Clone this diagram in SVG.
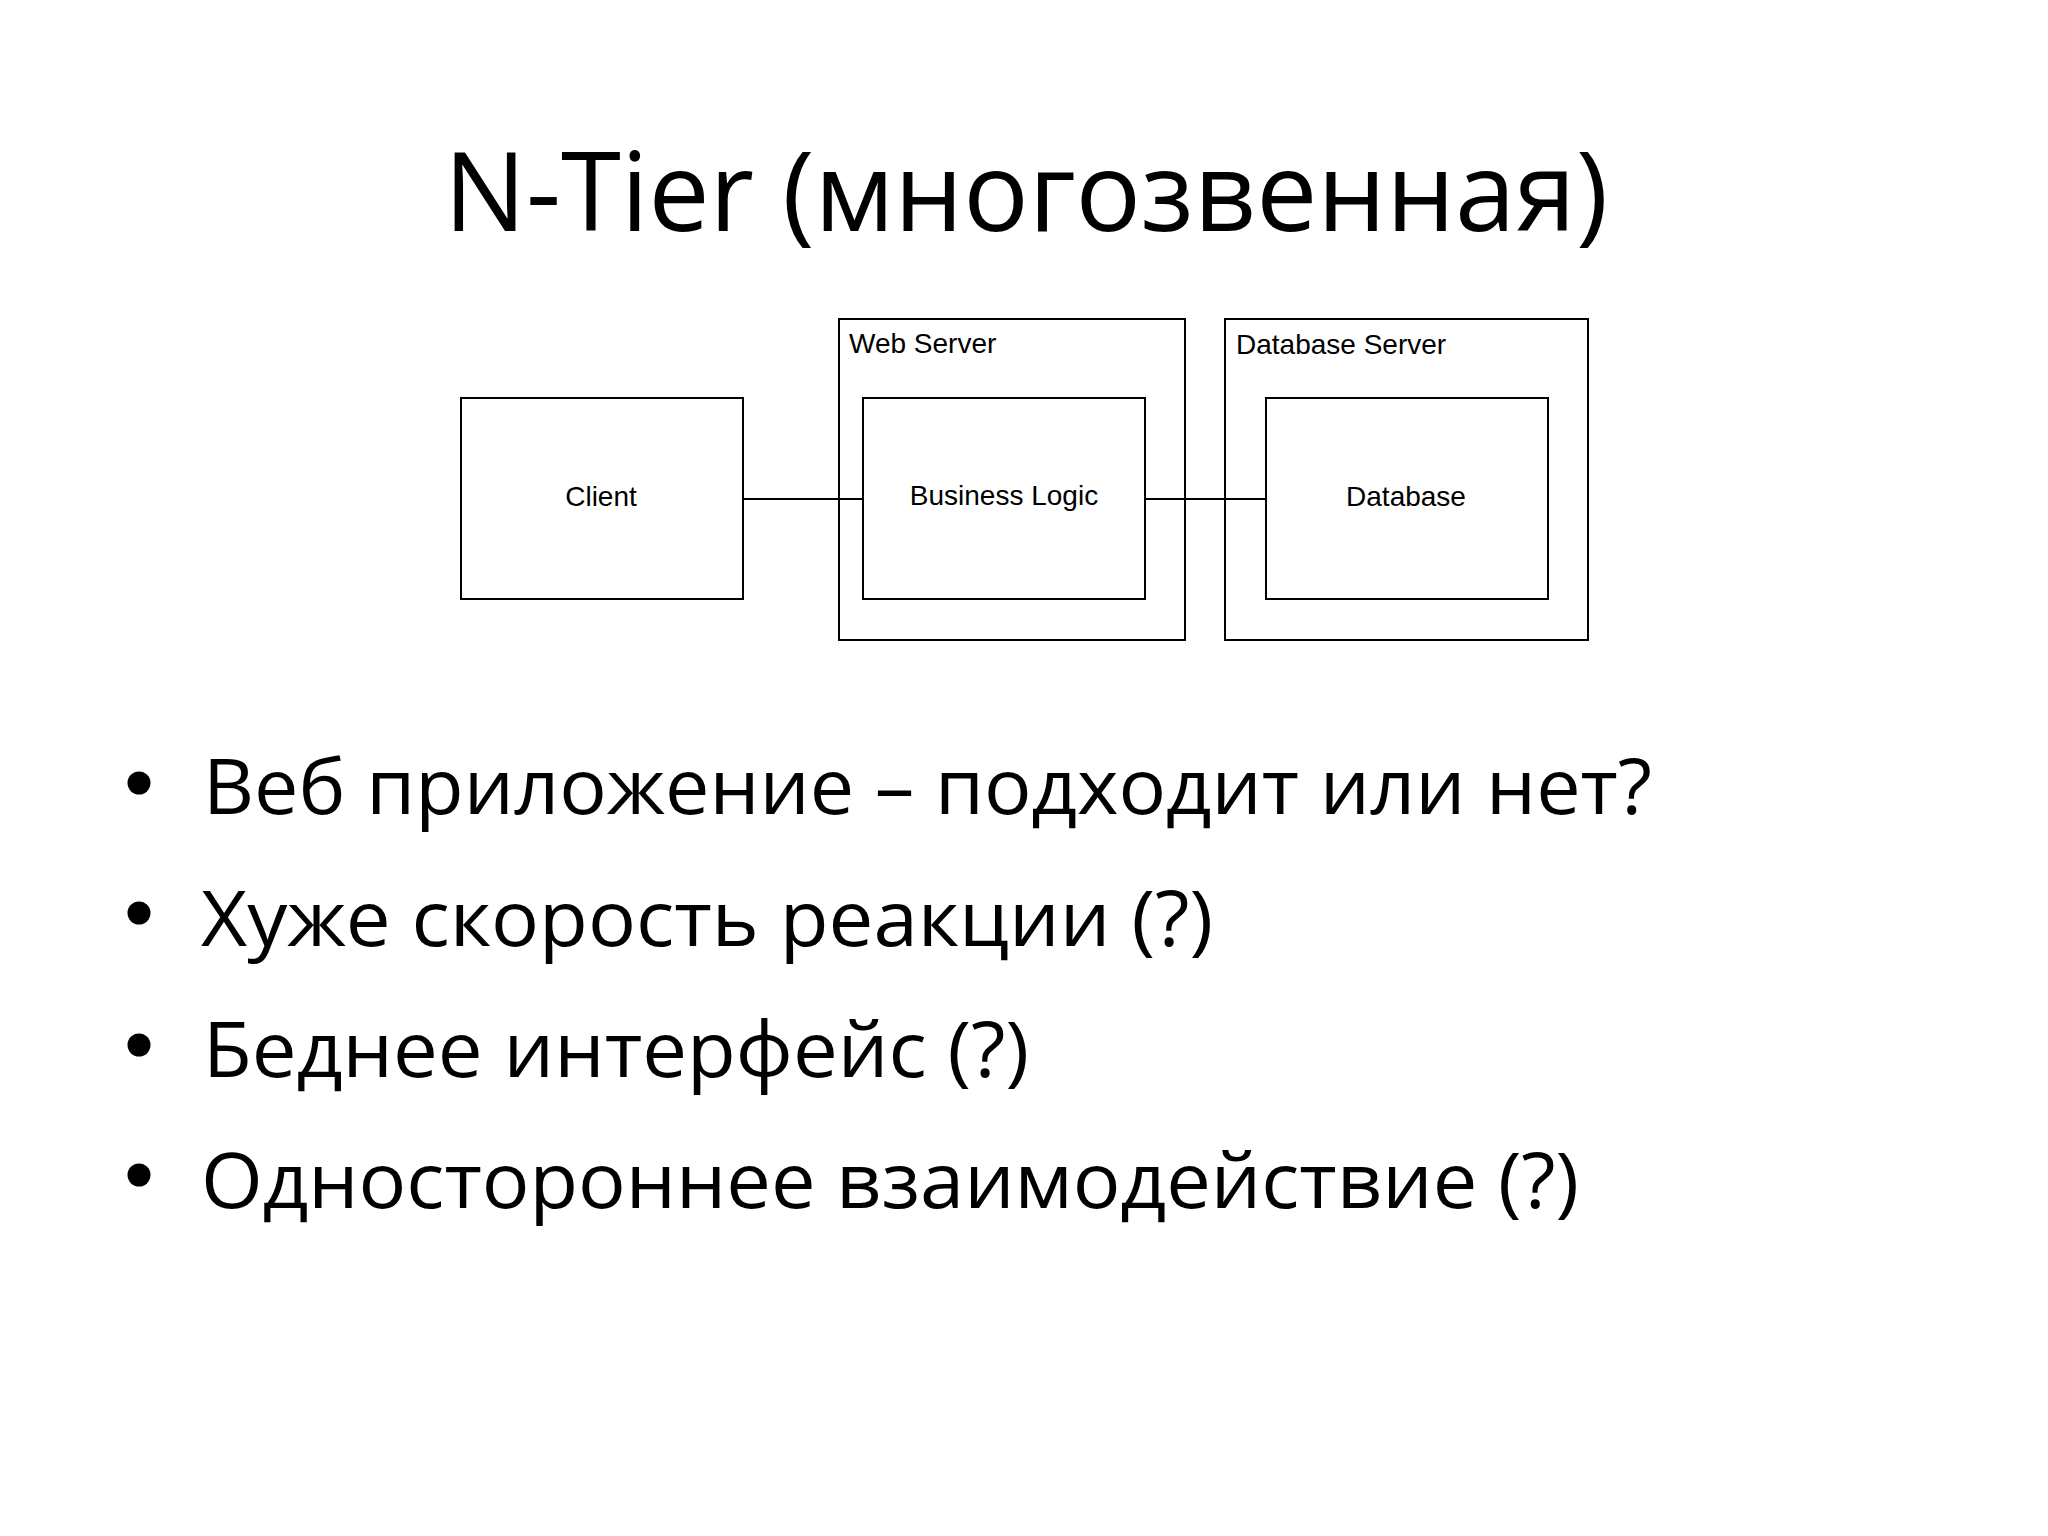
<svg xmlns="http://www.w3.org/2000/svg" width="2048" height="1536" viewBox="0 0 2048 1536">
  <style>
    .box { fill: #ffffff; stroke: #000000; stroke-width: 2; }
    .lbl { font-family: "Liberation Sans", Arial, sans-serif; font-size: 28px; fill: #000000; }
    .mid { text-anchor: middle; }
    .conn { stroke: #000000; stroke-width: 2; fill: none; }
    .title { font-family: "Open Sans", "Noto Sans", sans-serif; font-size: 109px; fill: #000000; }
    .bullet { font-family: "Open Sans", "Noto Sans", sans-serif; font-size: 77px; fill: #000000; }
  </style>
  <rect x="0" y="0" width="2048" height="1536" fill="#ffffff"/>

  <text class="title" x="444" y="231" textLength="1164" lengthAdjust="spacingAndGlyphs">N-Tier (многозвенная)</text>

  <g id="web-server">
    <rect class="box" x="839" y="319" width="346" height="321"/>
    <text class="lbl" x="849" y="353">Web Server</text>
  </g>
  <g id="database-server">
    <rect class="box" x="1225" y="319" width="363" height="321"/>
    <text class="lbl" x="1236" y="354">Database Server</text>
  </g>
  <g id="client">
    <rect class="box" x="461" y="398" width="282" height="201"/>
    <text class="lbl mid" x="601" y="506">Client</text>
  </g>
  <g id="business-logic">
    <rect class="box" x="863" y="398" width="282" height="201"/>
    <text class="lbl mid" x="1004" y="505">Business Logic</text>
  </g>
  <g id="database">
    <rect class="box" x="1266" y="398" width="282" height="201"/>
    <text class="lbl mid" x="1406" y="506">Database</text>
  </g>

  <g id="connectors">
    <line class="conn" x1="743" y1="499" x2="863" y2="499"/>
    <line class="conn" x1="1145" y1="499" x2="1266" y2="499"/>
  </g>

  <g id="bullets">
    <circle cx="139" cy="783" r="11.5" fill="#000"/>
    <text class="bullet" x="203" y="814" textLength="1449" lengthAdjust="spacingAndGlyphs">Веб приложение – подходит или нет?</text>
    <circle cx="139" cy="913" r="11.5" fill="#000"/>
    <text class="bullet" x="201" y="946" textLength="1012" lengthAdjust="spacingAndGlyphs">Хуже скорость реакции (?)</text>
    <circle cx="139" cy="1045" r="11.5" fill="#000"/>
    <text class="bullet" x="203" y="1077" textLength="826" lengthAdjust="spacingAndGlyphs">Беднее интерфейс (?)</text>
    <circle cx="139" cy="1175" r="11.5" fill="#000"/>
    <text class="bullet" x="201" y="1208" textLength="1378" lengthAdjust="spacingAndGlyphs">Одностороннее взаимодействие (?)</text>
  </g>
</svg>
